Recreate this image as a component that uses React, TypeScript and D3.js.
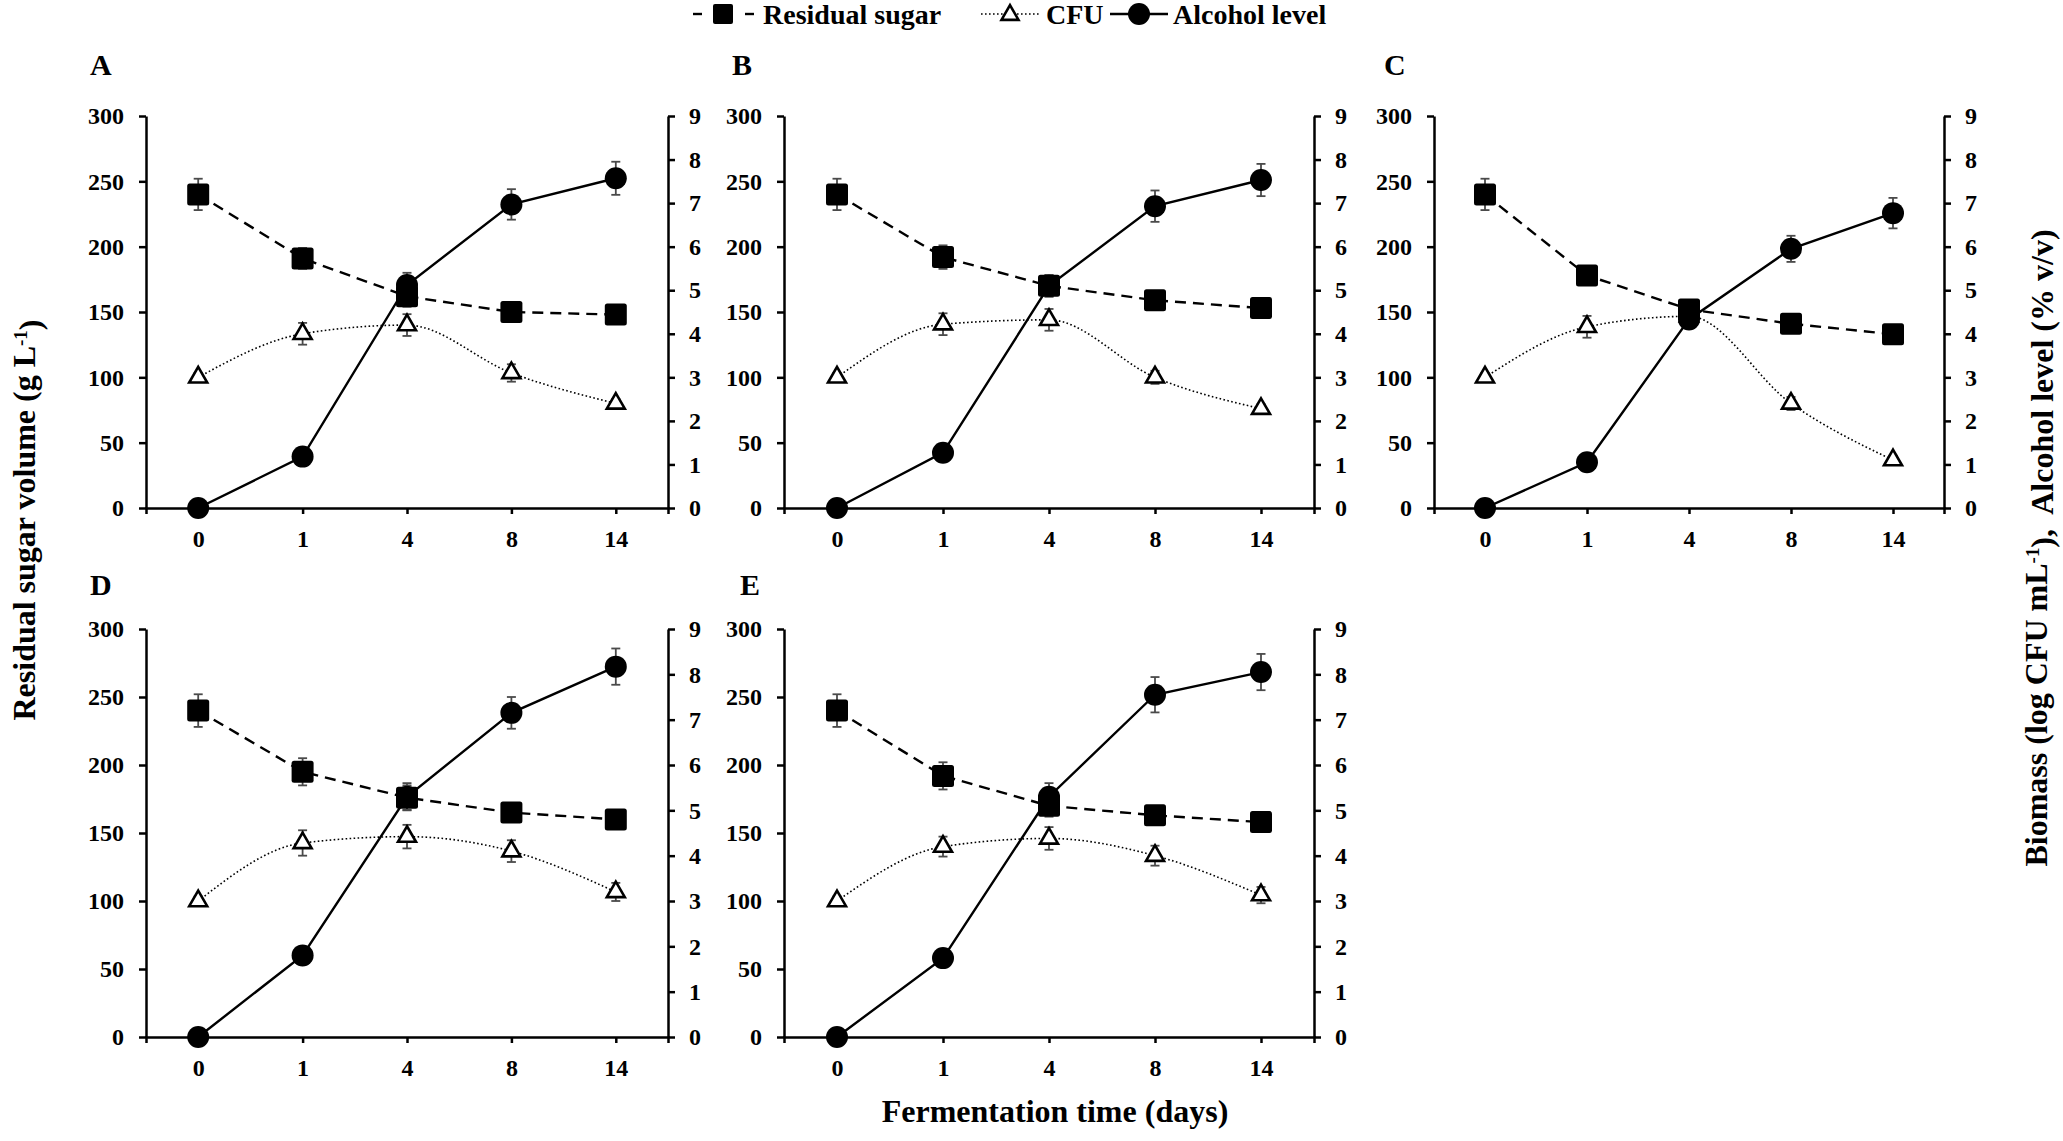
import React, { useEffect, useRef } from "react";
import * as d3 from "d3";

// ---- data ----
const days = ["0", "1", "4", "8", "14"];
const sugarTicks = [0, 50, 100, 150, 200, 250, 300];
const rightTicks = [0, 1, 2, 3, 4, 5, 6, 7, 8, 9];
const panelLabels = ["A", "B", "C", "D", "E"];
const legendLabels = ["Residual sugar", "CFU", "Alcohol level"];

const sugarA = [240, 191, 162, 150, 148];
const sugarErrA = [12, 8, 8, 4, 4];
const cfuA = [3.0, 4.0, 4.2, 3.1, 2.4];
const cfuErrA = [0.1, 0.25, 0.25, 0.2, 0.1];
const alcA = [0, 1.18, 5.12, 6.97, 7.57];
const alcErrA = [0.05, 0.1, 0.28, 0.35, 0.38];

const sugarB = [240, 192, 170, 159, 153];
const sugarErrB = [12, 9, 8, 5, 4];
const cfuB = [3.0, 4.22, 4.32, 3.0, 2.28];
const cfuErrB = [0.1, 0.25, 0.25, 0.15, 0.1];
const alcB = [0, 1.27, 5.1, 6.93, 7.53];
const alcErrB = [0.05, 0.1, 0.25, 0.36, 0.37];

const sugarC = [240, 178, 152, 141, 133];
const sugarErrC = [12, 6, 5, 4, 4];
const cfuC = [3.0, 4.16, 4.4, 2.4, 1.1];
const cfuErrC = [0.1, 0.25, 0.2, 0.15, 0.1];
const alcC = [0, 1.05, 4.33, 5.95, 6.77];
const alcErrC = [0.05, 0.1, 0.2, 0.3, 0.35];

const sugarD = [240, 195, 176, 165, 160];
const sugarErrD = [12, 10, 9, 6, 5];
const cfuD = [3.0, 4.28, 4.42, 4.1, 3.2];
const cfuErrD = [0.1, 0.28, 0.26, 0.24, 0.2];
const alcD = [0, 1.8, 5.3, 7.15, 8.17];
const alcErrD = [0.05, 0.1, 0.3, 0.35, 0.4];

const sugarE = [240, 192, 170, 163, 158];
const sugarErrE = [12, 10, 8, 5, 5];
const cfuE = [3.0, 4.2, 4.38, 4.0, 3.13];
const cfuErrE = [0.1, 0.22, 0.25, 0.22, 0.18];
const alcE = [0, 1.74, 5.3, 7.55, 8.05];
const alcErrE = [0.05, 0.1, 0.3, 0.39, 0.4];

const panels = [
  { sugar: sugarA, sugarErr: sugarErrA, cfu: cfuA, cfuErr: cfuErrA, alc: alcA, alcErr: alcErrA },
  { sugar: sugarB, sugarErr: sugarErrB, cfu: cfuB, cfuErr: cfuErrB, alc: alcB, alcErr: alcErrB },
  { sugar: sugarC, sugarErr: sugarErrC, cfu: cfuC, cfuErr: cfuErrC, alc: alcC, alcErr: alcErrC },
  { sugar: sugarD, sugarErr: sugarErrD, cfu: cfuD, cfuErr: cfuErrD, alc: alcD, alcErr: alcErrD },
  { sugar: sugarE, sugarErr: sugarErrE, cfu: cfuE, cfuErr: cfuErrE, alc: alcE, alcErr: alcErrE },
];

// ---- layout ----
const W = 2063;
const H = 1141;
const layouts = [
  { x0: 146, x1: 668, y0: 116, y1: 508, lx: 90, ly: 75 },
  { x0: 784, x1: 1314, y0: 116, y1: 508, lx: 732, ly: 75 },
  { x0: 1434, x1: 1944, y0: 116, y1: 508, lx: 1384, ly: 75 },
  { x0: 146, x1: 668, y0: 629, y1: 1037, lx: 90, ly: 595 },
  { x0: 784, x1: 1314, y0: 629, y1: 1037, lx: 740, ly: 595 },
];
const FONT = "'Liberation Serif','Times New Roman',Times,serif";
const AXW = 2.5;
const SQ = 22;
const CR = 11;
const TRI = 18;
const ERRC = "#4a4a4a";

function triPath(cx: number, cy: number, s: number) {
  const h = (s * Math.sqrt(3)) / 2;
  return `M${cx},${cy - (2 * h) / 3}L${cx + s / 2},${cy + h / 3}L${cx - s / 2},${cy + h / 3}Z`;
}

export default function App() {
  const ref = useRef<SVGSVGElement>(null);

  useEffect(() => {
    const svg = d3.select(ref.current);
    svg.selectAll("*").remove();

    const styleAxis = (g: any) => {
      g.attr("font-family", FONT).attr("font-size", 24).attr("font-weight", "bold");
      g.selectAll("path.domain").attr("stroke", "#000").attr("stroke-width", AXW);
      g.selectAll(".tick line").attr("stroke", "#000").attr("stroke-width", AXW);
      g.selectAll(".tick text").attr("fill", "#000");
    };

    panels.forEach((p, i) => {
      const L = layouts[i];
      const x = d3.scalePoint<string>().domain(days).range([L.x0, L.x1]).padding(0.5);
      const yL = d3.scaleLinear().domain([0, 300]).range([L.y1, L.y0]);
      const yR = d3.scaleLinear().domain([0, 9]).range([L.y1, L.y0]);
      const g = svg.append("g");

      // axes
      g.append("g")
        .attr("transform", `translate(0,${L.y1})`)
        .call(d3.axisBottom(x).tickSize(6).tickSizeOuter(6).tickPadding(16) as any)
        .call(styleAxis);
      g.append("g")
        .attr("transform", `translate(${L.x0},0)`)
        .call(d3.axisLeft(yL).tickValues(sugarTicks).tickSize(7).tickSizeOuter(0).tickPadding(15) as any)
        .call(styleAxis);
      g.append("g")
        .attr("transform", `translate(${L.x1},0)`)
        .call(d3.axisRight(yR).tickValues(rightTicks).tickFormat(d3.format("d")).tickSize(7).tickSizeOuter(0).tickPadding(14) as any)
        .call(styleAxis);

      // panel letter
      g.append("text")
        .attr("x", L.lx)
        .attr("y", L.ly)
        .attr("font-family", FONT)
        .attr("font-weight", "bold")
        .attr("font-size", 30)
        .text(panelLabels[i]);

      const xs = days.map((d) => x(d) as number);

      // lines
      const sugarLine = d3.line<number>().x((_, j) => xs[j]).y((v) => yL(v));
      const rLine = d3.line<number>().x((_, j) => xs[j]).y((v) => yR(v));
      const cfuLine = d3.line<number>().x((_, j) => xs[j]).y((v) => yR(v)).curve(d3.curveMonotoneX);

      g.append("path")
        .attr("d", cfuLine(p.cfu) as string)
        .attr("fill", "none")
        .attr("stroke", "#000")
        .attr("stroke-width", 1.6)
        .attr("stroke-dasharray", "1.6,2.4");
      g.append("path")
        .attr("d", sugarLine(p.sugar) as string)
        .attr("fill", "none")
        .attr("stroke", "#000")
        .attr("stroke-width", 2.4)
        .attr("stroke-dasharray", "11,7");
      g.append("path")
        .attr("d", rLine(p.alc) as string)
        .attr("fill", "none")
        .attr("stroke", "#000")
        .attr("stroke-width", 2.4);

      // error bars
      const errBars = (vals: number[], errs: number[], y: any) => {
        vals.forEach((v, j) => {
          const cx = xs[j];
          const top = y(v + errs[j]);
          const bot = y(v - errs[j]);
          g.append("line").attr("x1", cx).attr("x2", cx).attr("y1", top).attr("y2", bot)
            .attr("stroke", ERRC).attr("stroke-width", 1.8);
          [top, bot].forEach((yy) =>
            g.append("line").attr("x1", cx - 4.5).attr("x2", cx + 4.5).attr("y1", yy).attr("y2", yy)
              .attr("stroke", ERRC).attr("stroke-width", 1.8)
          );
        });
      };
      errBars(p.cfu, p.cfuErr, yR);
      errBars(p.alc, p.alcErr, yR);
      errBars(p.sugar, p.sugarErr, yL);

      // markers
      p.cfu.forEach((v, j) => {
        g.append("path").attr("d", triPath(xs[j], yR(v), TRI))
          .attr("fill", "#fff").attr("stroke", "#000").attr("stroke-width", 2.6).attr("stroke-linejoin", "miter");
      });
      p.alc.forEach((v, j) => {
        g.append("circle").attr("cx", xs[j]).attr("cy", yR(v)).attr("r", CR).attr("fill", "#000");
      });
      p.sugar.forEach((v, j) => {
        g.append("rect").attr("x", xs[j] - SQ / 2).attr("y", yL(v) - SQ / 2)
          .attr("width", SQ).attr("height", SQ).attr("rx", 2.5).attr("fill", "#000");
      });
    });

    // legend
    const lg = svg.append("g");
    const ly = 14;
    // residual sugar: "- ■ -"
    [[693, 702], [745, 754]].forEach(([a, b]) =>
      lg.append("line").attr("x1", a).attr("x2", b).attr("y1", ly).attr("y2", ly)
        .attr("stroke", "#000").attr("stroke-width", 2.4)
    );
    lg.append("rect").attr("x", 723 - 10).attr("y", ly - 10).attr("width", 20).attr("height", 20).attr("rx", 2).attr("fill", "#000");
    // CFU
    lg.append("line").attr("x1", 981).attr("x2", 1040).attr("y1", ly).attr("y2", ly)
      .attr("stroke", "#000").attr("stroke-width", 1.6).attr("stroke-dasharray", "1.6,2.4");
    lg.append("path").attr("d", triPath(1010, ly + 1, 17)).attr("fill", "#fff").attr("stroke", "#000").attr("stroke-width", 2.6);
    // alcohol
    lg.append("line").attr("x1", 1110).attr("x2", 1168).attr("y1", ly).attr("y2", ly)
      .attr("stroke", "#000").attr("stroke-width", 2.4);
    lg.append("circle").attr("cx", 1139).attr("cy", ly).attr("r", 11).attr("fill", "#000");
    const textX = [763, 1046, 1173];
    legendLabels.forEach((t, k) => {
      lg.append("text").attr("x", textX[k]).attr("y", 24)
        .attr("font-family", FONT).attr("font-weight", "bold").attr("font-size", 28).text(t);
    });

    // axis titles
    const left = svg.append("text")
      .attr("transform", "translate(24,520) rotate(-90)")
      .attr("text-anchor", "middle")
      .attr("dy", "0.35em")
      .attr("font-family", FONT).attr("font-weight", "bold").attr("font-size", 32);
    left.append("tspan").text("Residual sugar volume (g L");
    left.append("tspan").attr("dy", "-0.45em").attr("font-size", 19).text("-1");
    left.append("tspan").attr("dy", "0.45em").text(")");

    const right = svg.append("text")
      .attr("transform", "translate(2036,548) rotate(-90)")
      .attr("text-anchor", "middle")
      .attr("dy", "0.35em")
      .attr("font-family", FONT).attr("font-weight", "bold").attr("font-size", 32);
    right.append("tspan").text("Biomass (log CFU mL");
    right.append("tspan").attr("dy", "-0.45em").attr("font-size", 19).text("-1");
    right.append("tspan").attr("dy", "0.45em").text("),\u00A0 Alcohol level (% v/v)");

    svg.append("text")
      .attr("x", 1055).attr("y", 1122)
      .attr("text-anchor", "middle")
      .attr("font-family", FONT).attr("font-weight", "bold").attr("font-size", 32)
      .text("Fermentation time (days)");
  }, []);

  return (
    <svg
      ref={ref}
      width={W}
      height={H}
      viewBox={`0 0 ${W} ${H}`}
      style={{ position: "absolute", left: 0, top: 0, background: "#fff", display: "block" }}
    />
  );
}
